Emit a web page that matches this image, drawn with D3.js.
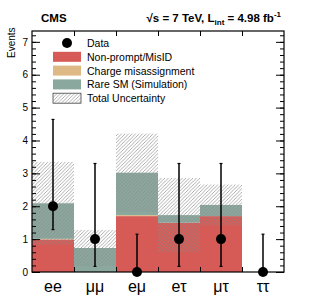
<!DOCTYPE html>
<html>
<head>
<meta charset="utf-8">
<script src="https://cdn.jsdelivr.net/npm/d3@7"></script>
<style>
  body { margin: 0; background: #fff; }
  text { font-family: "Liberation Sans", Arial, sans-serif; }
</style>
</head>
<body>
<div id="chart"></div>
<script>
// channels and stacked backgrounds (events)
var channels = ["ee", "μμ", "eμ", "eτ", "μτ", "ττ"];
var nonPrompt = [0.99, 0.0, 1.70, 1.50, 1.70, 0.0];
var chargeMis = [0.02, 0.0, 0.03, 0.0, 0.0, 0.0];
var rareSM = [1.08, 0.73, 1.29, 0.23, 0.34, 0.0];
var uncertainty = [1.26, 0.55, 1.19, 1.13, 0.62, 0.0];
var dataCounts = [2, 1, 0, 1, 1, 0];
var errLow = [0.71, 0.83, 0, 0.83, 0.83, 0];
var errHigh = [2.64, 2.30, 1.15, 2.30, 2.30, 1.15];
var yTicks = [0, 1, 2, 3, 4, 5, 6, 7];

var W = 315, H = 302;
var margin = { top: 31, right: 31, bottom: 30, left: 32 },
    width = W - margin.left - margin.right,
    height = H - margin.top - margin.bottom;

var svg = d3.select("#chart").append("svg")
    .attr("width", W)
    .attr("height", H);

// hatch pattern
var defs = svg.append("defs");
defs.append("pattern")
    .attr("id", "hatch")
    .attr("patternUnits", "userSpaceOnUse")
    .attr("width", 3.5).attr("height", 3.5)
    .append("path")
    .attr("d", "M-1,1 l2,-2 M0,3.5 l3.5,-3.5 M2.5,4.5 l2,-2")
    .attr("stroke", "#8c8c8c")
    .attr("stroke-width", 0.7);

var g = svg.append("g")
    .attr("transform", "translate(" + margin.left + "," + margin.top + ")");

var x = d3.scaleBand().domain(channels).range([0, width]).padding(0);
var y = d3.scaleLinear().domain([0, 7.33]).range([height, 0]);

// stacked backgrounds
var rows = channels.map(function (c, i) {
    return { ch: c, np: nonPrompt[i], cm: chargeMis[i], rs: rareSM[i] };
});
var stack = d3.stack().keys(["np", "cm", "rs"])(rows);
var colors = { np: "#d65a55", cm: "#dfb985", rs: "#8aa89d" };

stack.forEach(function (layer) {
    g.append("g").selectAll("rect")
        .data(layer)
        .enter().append("rect")
        .attr("x", function (d) { return x(d.data.ch); })
        .attr("width", x.bandwidth())
        .attr("y", function (d) { return y(d[1]); })
        .attr("height", function (d) { return y(d[0]) - y(d[1]); })
        .attr("fill", colors[layer.key]);
});

// total uncertainty band
g.append("g").selectAll("rect")
    .data(rows)
    .enter().append("rect")
    .attr("x", function (d) { return x(d.ch); })
    .attr("width", x.bandwidth())
    .attr("y", function (d, i) { return y(d.np + d.cm + d.rs + uncertainty[i]); })
    .attr("height", function (d, i) { return y(0) - y(2 * uncertainty[i]); })
    .attr("fill", "url(#hatch)");

// axes
var yAxisL = d3.axisLeft(y).tickValues(yTicks).tickSize(-8).tickPadding(4).tickFormat(d3.format("d"));
var yAxisR = d3.axisRight(y).tickValues(yTicks).tickSize(-8).tickFormat("");
var yMinor = d3.range(0, 7.3, 0.2);

g.append("g").attr("class", "axis").call(yAxisL);
g.append("g").attr("class", "axis").attr("transform", "translate(" + width + ",0)").call(yAxisR);
g.append("g").attr("class", "axis").call(d3.axisLeft(y).tickValues(yMinor).tickSize(-4).tickFormat(""));
g.append("g").attr("class", "axis").attr("transform", "translate(" + width + ",0)")
    .call(d3.axisRight(y).tickValues(yMinor).tickSize(-4).tickFormat(""));

var bounds = d3.range(1, channels.length).map(function (i) { return x(channels[i]); });
var xLin = d3.scaleLinear().domain([0, width]).range([0, width]);
g.append("g").attr("class", "axis").attr("transform", "translate(0," + height + ")")
    .call(d3.axisBottom(xLin).tickValues(bounds).tickSize(-5).tickFormat(""));
g.append("g").attr("class", "axis")
    .call(d3.axisTop(xLin).tickValues(bounds).tickSize(-5).tickFormat(""));

g.selectAll(".axis .domain").remove();
g.selectAll(".axis line").attr("stroke", "#000").attr("stroke-width", 1);
g.selectAll(".axis text").attr("font-size", 10).attr("fill", "#000")
    .style("font-family", "Liberation Sans, Arial, sans-serif");

// frame
g.append("rect").attr("width", width).attr("height", height)
    .attr("fill", "none").attr("stroke", "#000").attr("stroke-width", 1.2);

// channel labels
g.append("g").selectAll("text")
    .data(channels)
    .enter().append("text")
    .attr("x", function (d) { return x(d) + x.bandwidth() / 2; })
    .attr("y", height + 20)
    .attr("text-anchor", "middle")
    .attr("font-size", 16)
    .text(function (d) { return d; });

// data points with errors
var pts = g.append("g");
dataCounts.forEach(function (n, i) {
    var cx = x(channels[i]) + x.bandwidth() / 2;
    pts.append("line")
        .attr("x1", cx).attr("x2", cx)
        .attr("y1", y(n - errLow[i])).attr("y2", y(n + errHigh[i]))
        .attr("stroke", "#000").attr("stroke-width", 1.5);
    [n - errLow[i], n + errHigh[i]].forEach(function (v) {
        if (v <= 0) return;
        pts.append("line")
            .attr("x1", cx - 1.5).attr("x2", cx + 1.5)
            .attr("y1", y(v)).attr("y2", y(v))
            .attr("stroke", "#000").attr("stroke-width", 1.2);
    });
    pts.append("circle")
        .attr("cx", cx).attr("cy", y(n)).attr("r", 5).attr("fill", "#000");
});

// legend
var legendItems = [
    { label: "Data", type: "dot" },
    { label: "Non-prompt/MisID", type: "box", fill: colors.np },
    { label: "Charge misassignment", type: "box", fill: colors.cm },
    { label: "Rare SM (Simulation)", type: "box", fill: colors.rs },
    { label: "Total Uncertainty", type: "hatch" }
];
var leg = svg.append("g");
legendItems.forEach(function (d, i) {
    var cy = 43 + i * 13.8;
    if (d.type === "dot") {
        leg.append("circle").attr("cx", 67).attr("cy", cy).attr("r", 5).attr("fill", "#000");
    } else {
        leg.append("rect").attr("x", 53).attr("y", cy - 5).attr("width", 28).attr("height", 10)
            .attr("fill", d.type === "hatch" ? "url(#hatch)" : d.fill)
            .attr("stroke", d.type === "hatch" ? "#444" : "none")
            .attr("stroke-width", 0.8);
    }
    leg.append("text").attr("x", 87).attr("y", cy + 4)
        .attr("font-size", 10.5).text(d.label);
});

// y label
svg.append("text")
    .attr("transform", "translate(15,58) rotate(-90)")
    .attr("font-size", 10)
    .text("Events");

// header
svg.append("text").attr("x", 41).attr("y", 22)
    .attr("font-size", 11.5).attr("font-weight", "bold").text("CMS");

var hdr = svg.append("text").attr("x", 281).attr("y", 22)
    .attr("text-anchor", "end").attr("font-size", 11.5).attr("font-weight", "bold");
hdr.append("tspan").text("√s = 7 TeV, L");
hdr.append("tspan").attr("dy", 3).attr("font-size", 8).text("int");
hdr.append("tspan").attr("dy", -3).text(" = 4.98 fb");
hdr.append("tspan").attr("dy", -5).attr("font-size", 8).text("-1");
</script>
</body>
</html>
